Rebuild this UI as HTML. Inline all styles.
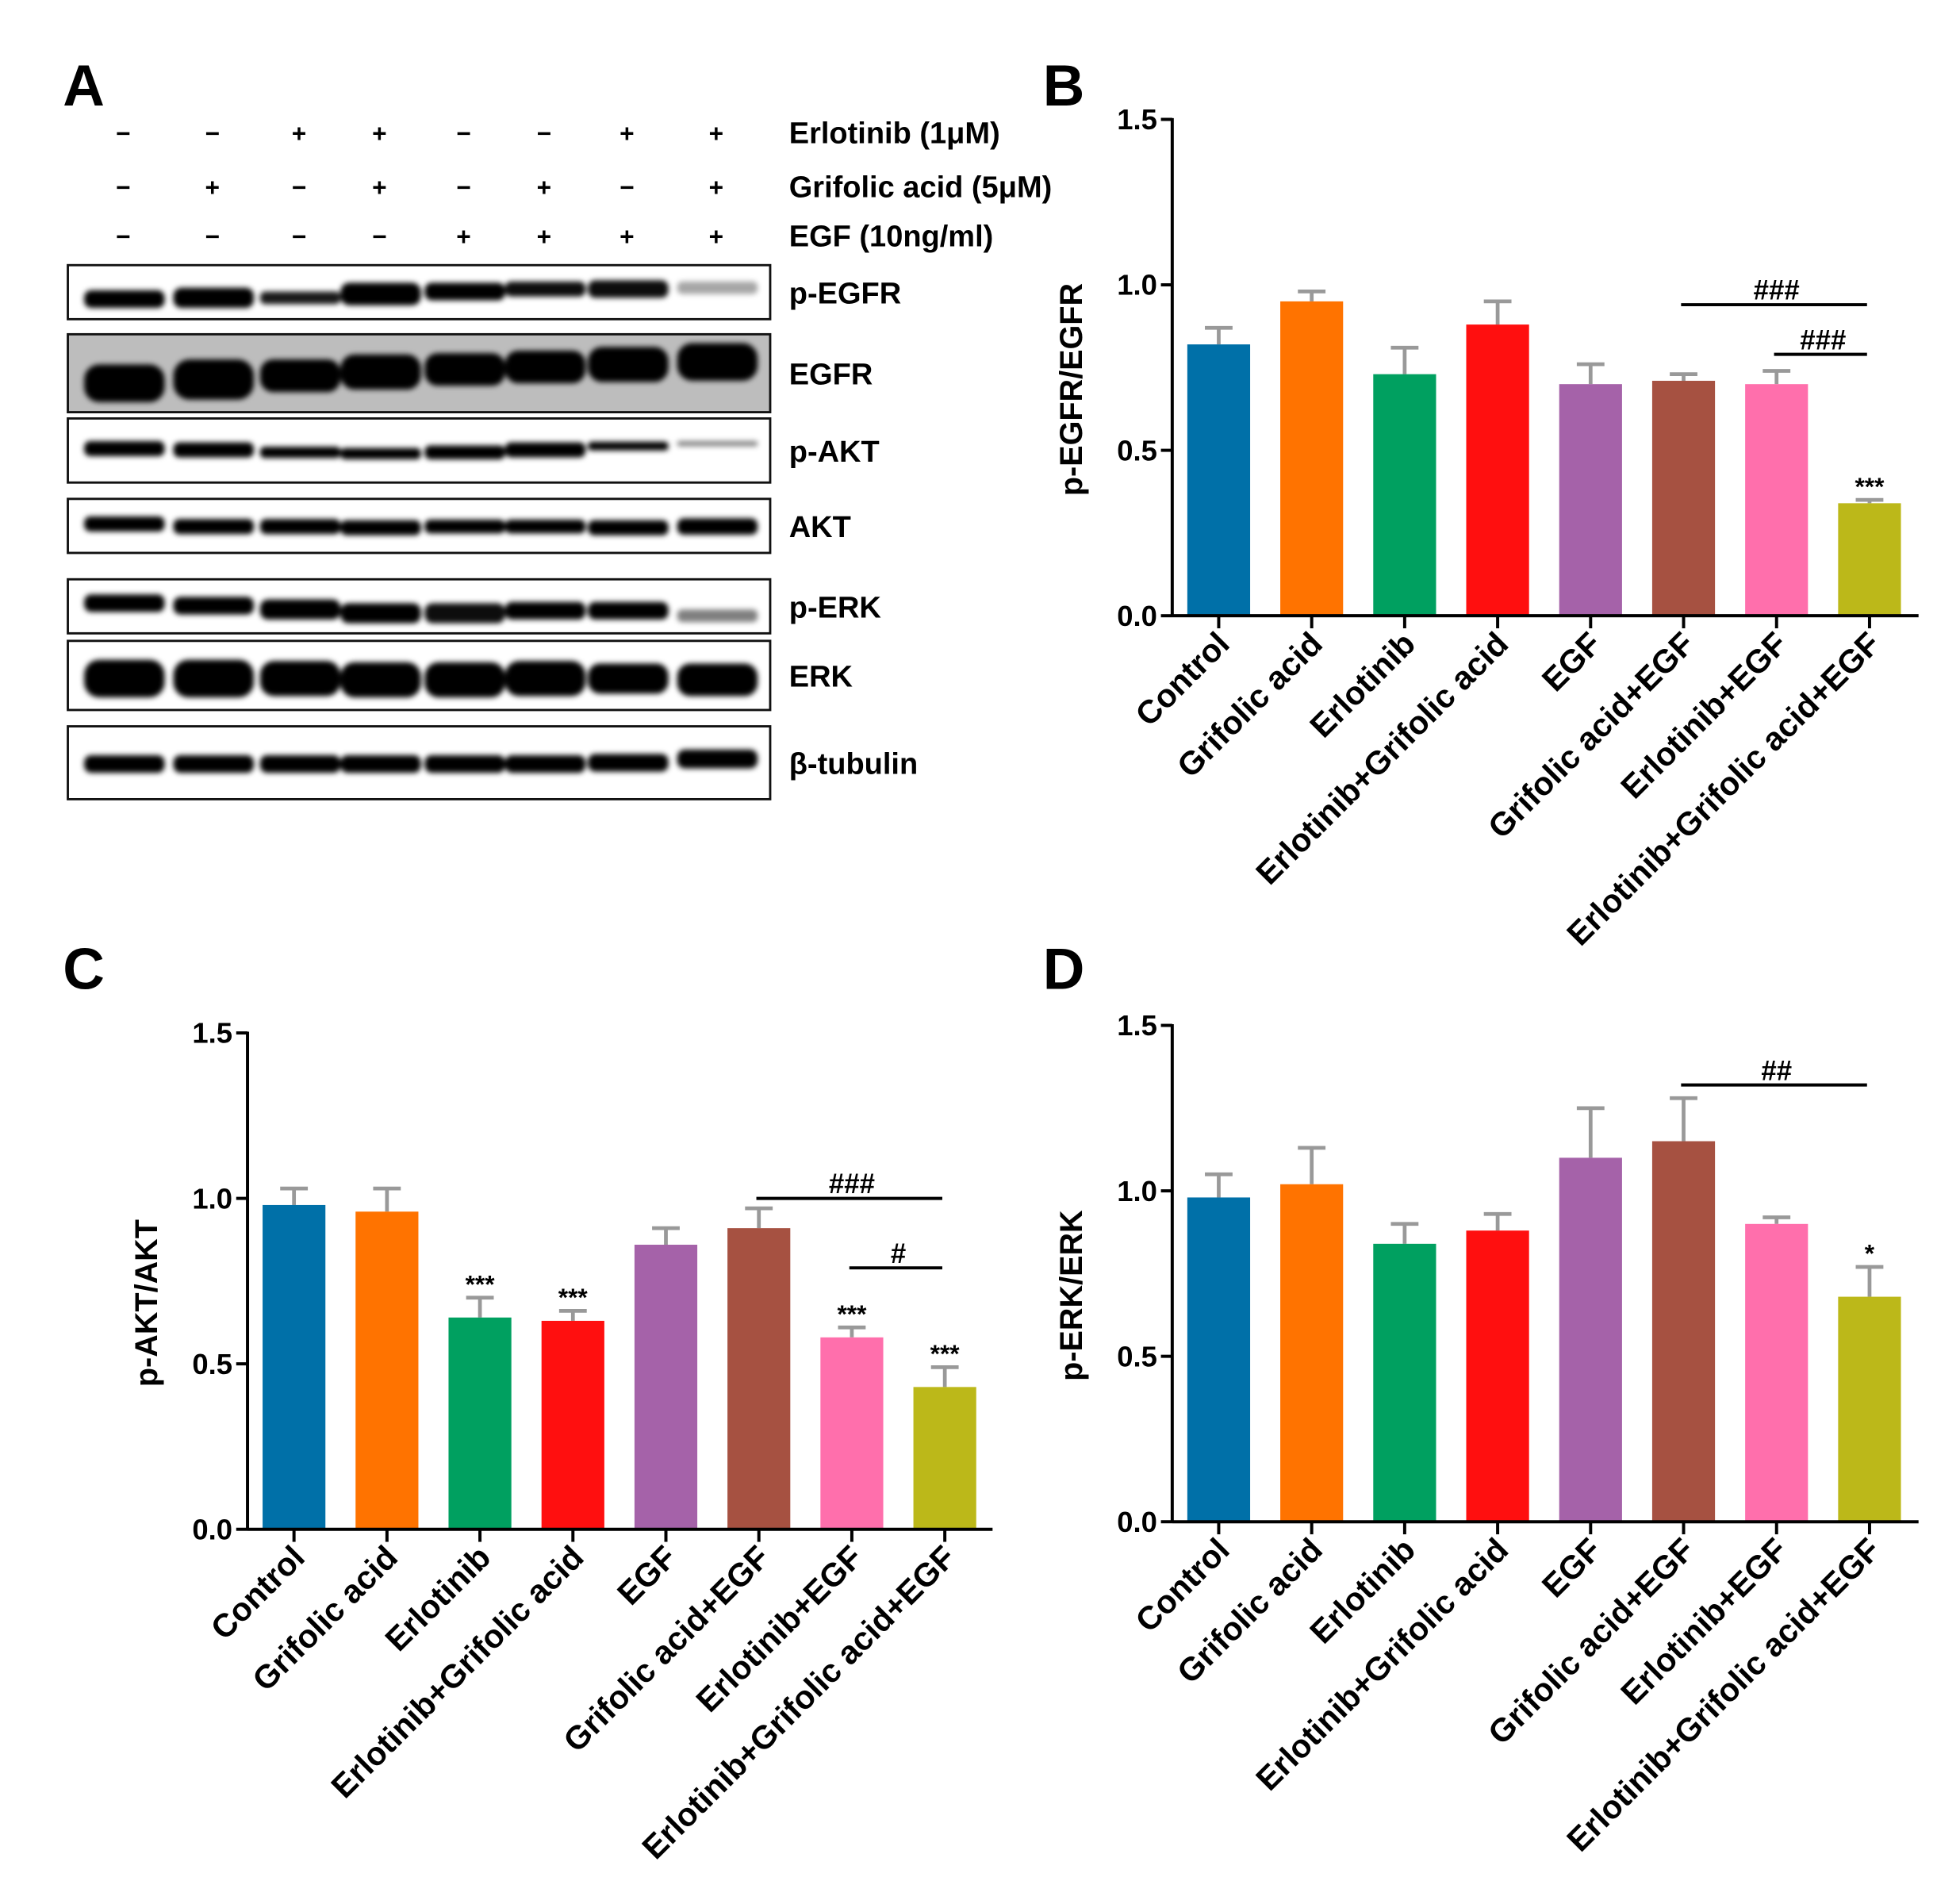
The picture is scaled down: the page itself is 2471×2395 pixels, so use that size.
<!DOCTYPE html>
<html><head><meta charset="utf-8"><style>
html,body{margin:0;padding:0;background:#fff}
svg{display:block;font-family:"Liberation Sans",Arial,sans-serif}
</style></head><body>
<svg id="fig" width="2471" height="2395" viewBox="0 0 1560 1512" xmlns="http://www.w3.org/2000/svg">
<defs><filter id="blur" x="-20%" y="-50%" width="140%" height="200%"><feGaussianBlur stdDeviation="2.2"/></filter></defs>
<g id="blot"></g>
<g id="charts"></g>
</svg>
<script>
const NS="http://www.w3.org/2000/svg";
function mk(p,tag,a,txt){const e=document.createElementNS(NS,tag);for(const k in a)e.setAttribute(k,a[k]);if(txt!==undefined)e.textContent=txt;p.appendChild(e);return e;}
const svg=document.getElementById('fig');
const categories=["Control","Grifolic acid","Erlotinib","Erlotinib+Grifolic acid","EGF","Grifolic acid+EGF","Erlotinib+EGF","Erlotinib+Grifolic acid+EGF"];
const colors=["#0070A8","#FF7300","#00A060","#FF0F0F","#A562A9","#A65141","#FF6FAC","#BCB819"];
const yTicks=[0,0.5,1.0,1.5];
const tickLabels=["0.0","0.5","1.0","1.5"];
const valuesB=[0.82,0.95,0.73,0.88,0.70,0.71,0.70,0.34];
const errorsB=[0.05,0.03,0.08,0.07,0.06,0.02,0.04,0.01];
const starsB=["","","","","","","","***"];
const valuesC=[0.98,0.96,0.64,0.63,0.86,0.91,0.58,0.43];
const errorsC=[0.05,0.07,0.06,0.03,0.05,0.06,0.03,0.06];
const starsC=["","","***","***","","","***","***"];
const valuesD=[0.98,1.02,0.84,0.88,1.10,1.15,0.90,0.68];
const errorsD=[0.07,0.11,0.06,0.05,0.15,0.13,0.02,0.09];
const starsD=["","","","","","","","*"];

[["A",50,84],["B",830,84],["C",50,787],["D",830,787]].forEach(([t,x,y])=>{
 const e=mk(svg,'text',{x:x,y:y,'font-size':46,'font-weight':'bold'},t);
 
 
});

const blot=document.getElementById('blot');
const laneX=[98,169,238,302,369,433,499,570];
const treat=[["−","−","+","+","−","−","+","+"],["−","+","−","+","−","+","−","+"],["−","−","−","−","+","+","+","+"]];
const treatLabels=["Erlotinib (1μM)","Grifolic acid (5μM)","EGF (10ng/ml)"];
const treatY=[113,156,195];
treat.forEach((row,r)=>{
 row.forEach((s,i)=>{const e=mk(blot,'text',{x:laneX[i],y:treatY[r],'font-size':20,'font-weight':'bold','text-anchor':'middle'},s);
  });
 const l=mk(blot,'text',{x:628,y:treatY[r]+1,'font-size':24,'font-weight':'bold'},treatLabels[r]);
 
});
const rows=[
 {n:"p-EGFR",y1:211,y2:254,bg:"#fff",by:[238,237,237,234,232,230,230,229],bh:[14,16,10,18,14,12,14,10],op:[1,1,0.9,1,1,0.95,0.95,0.35]},
 {n:"EGFR",y1:266,y2:328,bg:"#bdbdbd",by:[305,302,299,296,294,292,290,288],bh:[30,32,26,28,26,26,28,30],op:[1,1,1,1,1,1,1,1]},
 {n:"p-AKT",y1:333,y2:384,bg:"#fff",by:[357,358,360,361,360,358,355,353],bh:[12,12,9,9,11,12,7,4],op:[1,1,1,1,1,1,1,0.5]},
 {n:"AKT",y1:397,y2:440,bg:"#fff",by:[417,419,419,420,419,419,420,419],bh:[12,12,12,12,11,11,12,13],op:[1,1,1,1,1,1,1,1]},
 {n:"p-ERK",y1:461,y2:504,bg:"#fff",by:[480,482,485,488,488,486,486,490],bh:[14,14,16,16,16,14,14,10],op:[1,1,1,1,0.95,1,1,0.5]},
 {n:"ERK",y1:510,y2:565,bg:"#fff",by:[540,540,540,541,541,540,540,541],bh:[30,30,28,28,28,28,24,26],op:[1,1,1,1,1,1,1,1]},
 {n:"β-tubulin",y1:578,y2:636,bg:"#fff",by:[608,608,608,608,608,608,607,604],bh:[14,14,14,14,14,14,14,15],op:[1,1,1,1,1,1,1,1]}
];
rows.forEach(r=>{
 const g=mk(blot,'g',{});
 
 
 mk(g,'rect',{x:54,y:r.y1,width:559,height:r.y2-r.y1,fill:r.bg});
 const bg=mk(g,'g',{filter:'url(#blur)'});
 laneX.forEach((x,i)=>{mk(bg,'rect',{x:x-31,y:r.by[i]-r.bh[i]/2,width:64,height:r.bh[i],rx:r.bh[i]/2.5,fill:'#000','fill-opacity':r.op[i]});});
 mk(g,'rect',{x:54,y:r.y1,width:559,height:r.y2-r.y1,fill:'none',stroke:'#111','stroke-width':1.8});
 const t=mk(g,'text',{x:628,y:(r.y1+r.y2)/2+9,'font-size':24,'font-weight':'bold'},r.n);
 
});

function chart(name,ox,oy,axRight,yTitle,vals,errs,stars,sig){
 const g=mk(document.getElementById('charts'),'g',{});
 
 
 const H=395/1.5;
 const y=v=>oy-v*H;
 const x=i=>ox+37+i*74;
 vals.forEach((v,i)=>{
  const e=mk(g,'line',{x1:x(i),x2:x(i),y1:y(v),y2:y(v+errs[i]),stroke:'#999','stroke-width':3});
  
  mk(g,'line',{x1:x(i)-11,x2:x(i)+11,y1:y(v+errs[i]),y2:y(v+errs[i]),stroke:'#999','stroke-width':3});
  const b=mk(g,'rect',{x:x(i)-25,y:y(v),width:50,height:v*H,fill:colors[i]});
  
  if(stars[i]){const s=mk(g,'text',{x:x(i),y:y(v+errs[i])-4,'font-size':20,'font-weight':'bold','text-anchor':'middle'},stars[i]);
   }
  mk(g,'line',{x1:x(i),x2:x(i),y1:oy,y2:oy+10,stroke:'#000','stroke-width':2.5});
  const lx=x(i)+10, ly=oy+24;
  const l=mk(g,'text',{x:lx,y:ly,'font-size':26,'font-weight':'bold','text-anchor':'end',transform:`rotate(-45 ${lx} ${ly})`},categories[i]);
  
 });
 const ya=mk(g,'line',{x1:ox,x2:ox,y1:y(1.5)-1,y2:oy+1,stroke:'#000','stroke-width':2.5});
 
 const xa=mk(g,'line',{x1:ox,x2:axRight,y1:oy,y2:oy,stroke:'#000','stroke-width':2.5});
 
 yTicks.forEach((t,k)=>{
  mk(g,'line',{x1:ox-9,x2:ox,y1:y(t),y2:y(t),stroke:'#000','stroke-width':2.5});
  const e=mk(g,'text',{x:ox-12,y:y(t)+8,'font-size':23,'font-weight':'bold','text-anchor':'end'},tickLabels[k]);
  
 });
 const cy=oy-180;
 const yt=mk(g,'text',{x:ox-72,y:cy,'font-size':25,'font-weight':'bold','text-anchor':'middle',transform:`rotate(-90 ${ox-72} ${cy})`},yTitle);
 
 sig.forEach(s=>{
  const l=mk(g,'line',{x1:x(s[0])-2,x2:x(s[1])-2,y1:y(s[2]),y2:y(s[2]),stroke:'#000','stroke-width':2.5});
  
  const t=mk(g,'text',{x:(x(s[0])+x(s[1]))/2,y:y(s[2])-4,'font-size':22,'font-weight':'bold','text-anchor':'middle'},s[3]);
  
 });
}
chart('chart-b-p-egfr',933,490,1527,'p-EGFR/EGFR',valuesB,errorsB,starsB,[[5,7,0.94,'###'],[6,7,0.79,'###']]);
chart('chart-c-p-akt',197,1217,790,'p-AKT/AKT',valuesC,errorsC,starsC,[[5,7,1.0,'###'],[6,7,0.79,'#']]);
chart('chart-d-p-erk',933,1211,1527,'p-ERK/ERK',valuesD,errorsD,starsD,[[5,7,1.32,'##']]);
</script>
</body></html>
